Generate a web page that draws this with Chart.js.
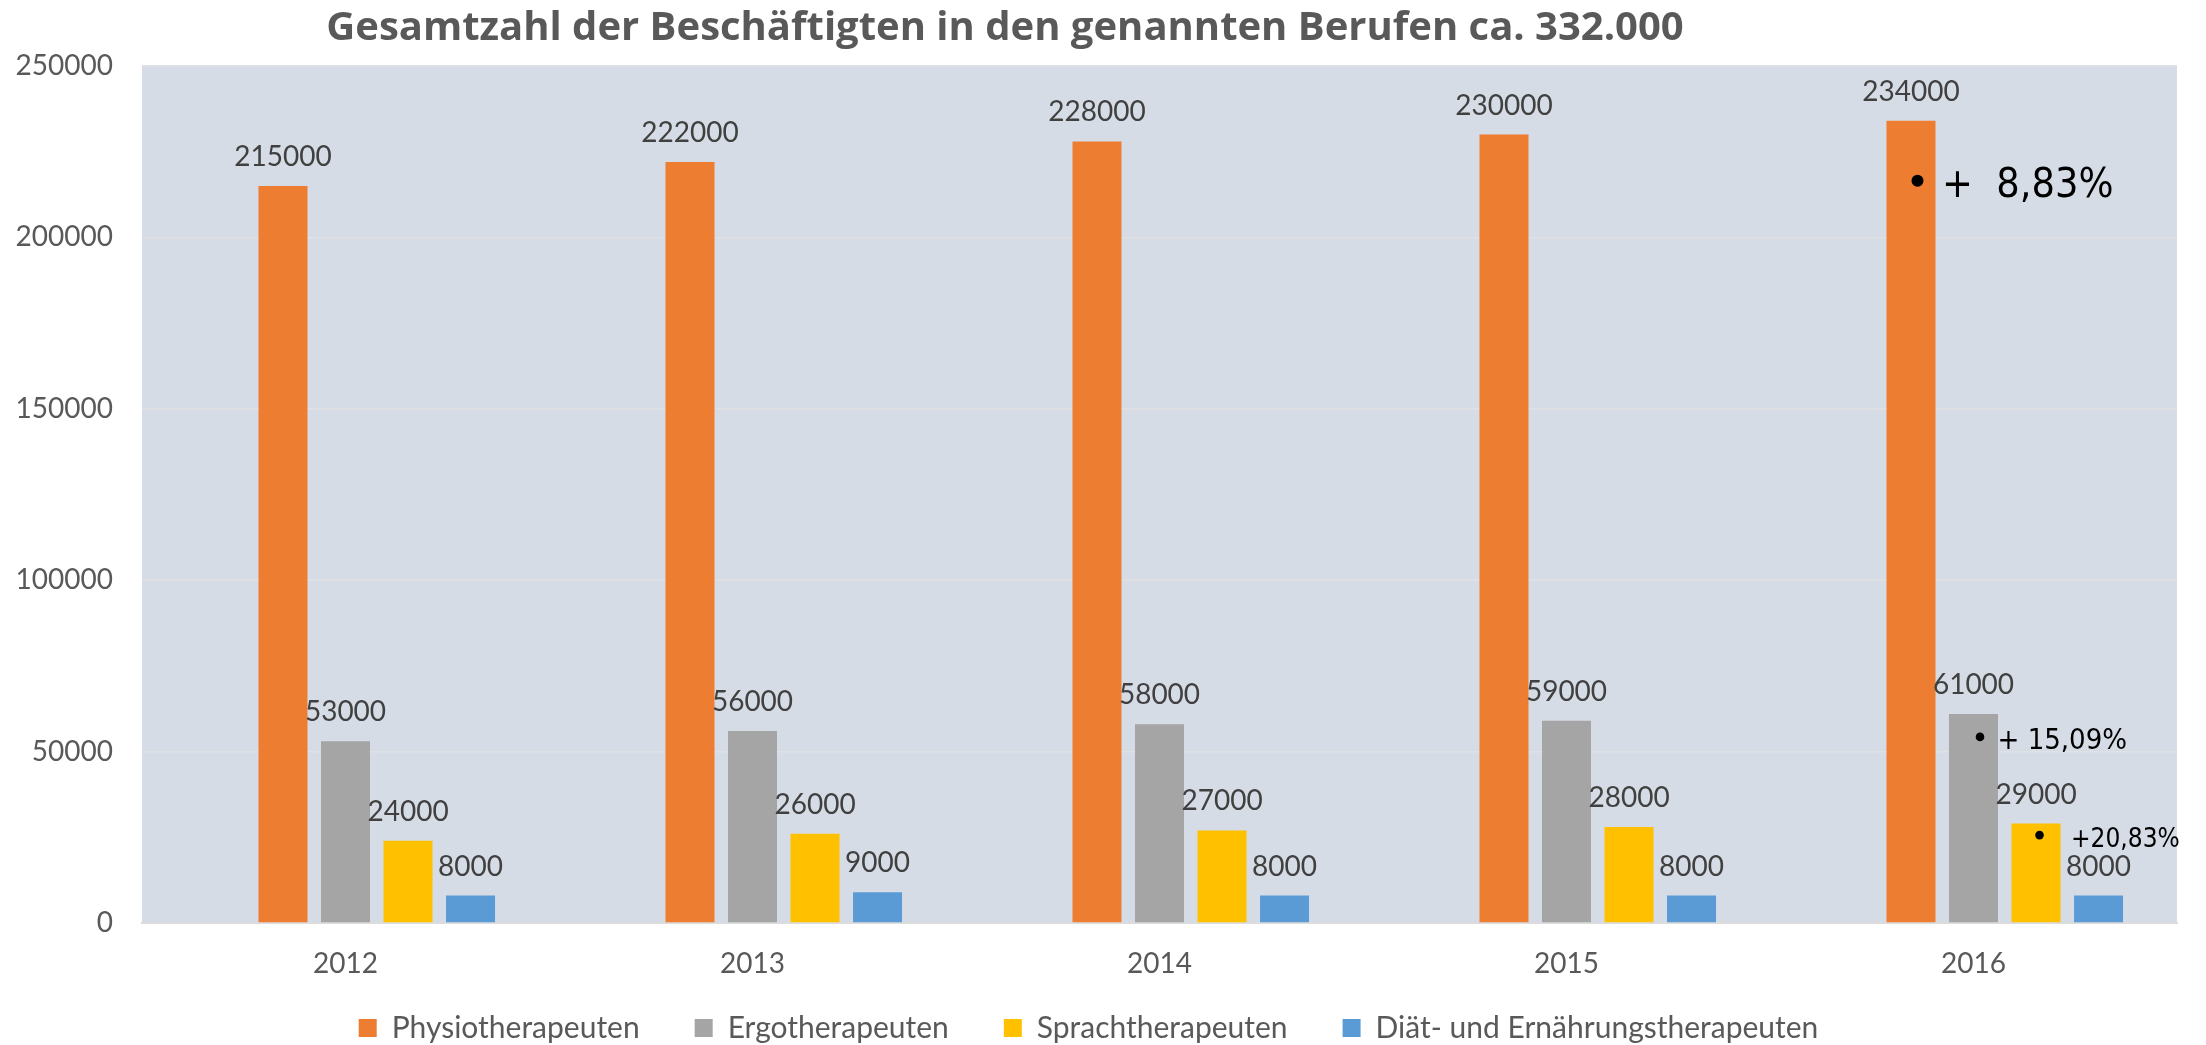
<!DOCTYPE html>
<html>
<head>
<meta charset="utf-8">
<script src="https://cdn.jsdelivr.net/npm/chart.js@4.4.1/dist/chart.umd.min.js"></script>
<style>
  html, body { margin: 0; padding: 0; background: #fff; }
</style>
</head>
<body>
<canvas id="barChart" width="2206" height="1045"></canvas>
<script>
// data
var years = ['2012', '2013', '2014', '2015', '2016'];
var physio = [215000, 222000, 228000, 230000, 234000];
var ergo = [53000, 56000, 58000, 59000, 61000];
var sprach = [24000, 26000, 27000, 28000, 29000];
var diaet = [8000, 9000, 8000, 8000, 8000];
var emptySlot = [null, null, null, null, null]; // empty first series in the original
var seriesNames = ['Physiotherapeuten', 'Ergotherapeuten', 'Sprachtherapeuten', 'Diät- und Ernährungstherapeuten'];
var yTicks = [0, 50000, 100000, 150000, 200000, 250000];
var growthLabels = ['+  8,83%', '+ 15,09%', '+20,83%'];
var chartTitle = 'Gesamtzahl der Beschäftigten in den genannten Berufen ca. 332.000';

var textGrey = '#595959';

// growth notes sit on the 2016 bars of the first three series
var noteStyle = [
  {dataset: 1, r: 6, dotX: 6.5, dotY: 60, textX: 31, textY: 76, size: 41},
  {dataset: 2, r: 4.3, dotX: 6.5, dotY: 23, textX: 24, textY: 35, size: 29},
  {dataset: 3, r: 4.3, dotX: 3.5, dotY: 11.5, textX: 35, textY: 23.5, size: 26}
];

var plotBackground = {
  id: 'plotBackground',
  afterLayout: function (chart) {
    // the x labels hang into the legend band, keep them from being clipped
    chart.scales.x.bottom = chart.height;
  },
  beforeDraw: function (chart) {
    var a = chart.chartArea, ctx = chart.ctx;
    ctx.save();
    ctx.fillStyle = '#d6dce5';
    ctx.fillRect(a.left, a.top, a.right - a.left, a.bottom - a.top);
    ctx.restore();
  }
};

var titleText = {
  id: 'titleText',
  afterDraw: function (chart) {
    var ctx = chart.ctx;
    ctx.save();
    ctx.font = 'bold 40px "Open Sans"';
    ctx.fillStyle = textGrey;
    ctx.textAlign = 'center';
    ctx.textBaseline = 'middle';
    ctx.fillText(chartTitle, 1005, 29);
    ctx.restore();
  }
};

var valueLabels = {
  id: 'valueLabels',
  afterDatasetsDraw: function (chart) {
    var ctx = chart.ctx;
    ctx.save();
    ctx.font = '28px Lato';
    ctx.fillStyle = '#404040';
    ctx.textAlign = 'center';
    ctx.textBaseline = 'middle';
    chart.data.datasets.forEach(function (ds, di) {
      if (di === 0) return;
      chart.getDatasetMeta(di).data.forEach(function (bar, i) {
        ctx.fillText(String(ds.data[i]), bar.x, bar.y - 29);
      });
    });

    // growth notes
    var last = years.length - 1;
    ctx.fillStyle = '#000';
    ctx.textAlign = 'left';
    ctx.textBaseline = 'alphabetic';
    noteStyle.forEach(function (n, k) {
      var bar = chart.getDatasetMeta(n.dataset).data[last];
      ctx.beginPath();
      ctx.arc(bar.x + n.dotX, bar.y + n.dotY, n.r, 0, Math.PI * 2);
      ctx.fill();
      ctx.font = n.size + 'px "DejaVu Sans Condensed"';
      ctx.fillText(growthLabels[k], bar.x + n.textX, bar.y + n.textY);
    });
    ctx.restore();
  }
};

var ctx = document.getElementById('barChart');
new Chart(ctx, {
  type: 'bar',
  data: {
    labels: years,
    datasets: [
      {label: '', data: emptySlot, backgroundColor: 'rgba(0,0,0,0)'},
      {label: seriesNames[0], data: physio, backgroundColor: '#ed7d31'},
      {label: seriesNames[1], data: ergo, backgroundColor: '#a5a5a5'},
      {label: seriesNames[2], data: sprach, backgroundColor: '#ffc000'},
      {label: seriesNames[3], data: diaet, backgroundColor: '#5b9bd5'}
    ]
  },
  options: {
    responsive: false,
    animation: false,
    categoryPercentage: 0.768,
    barPercentage: 0.784,
    layout: {
      padding: {left: 0, right: 29, top: 66, bottom: -8}
    },
    scales: {
      x: {
        grid: {display: false, drawTicks: false},
        border: {display: true, color: '#dcdcdc', width: 2},
        ticks: {color: textGrey, font: {family: 'Lato', size: 28}, padding: 24},
        afterFit: function (scale) { scale.height = 35; }
      },
      y: {
        min: 0,
        max: 250000,
        afterBuildTicks: function (scale) {
          scale.ticks = yTicks.map(function (v) { return {value: v}; });
        },
        grid: {color: '#dfe1e5', lineWidth: 1.5, drawTicks: false},
        border: {display: false},
        ticks: {
          color: textGrey,
          font: {family: 'Lato', size: 28},
          padding: 29,
          callback: function (v) { return String(v); }
        },
        afterFit: function (scale) { scale.width = 142; }
      }
    },
    plugins: {
      legend: {
        position: 'bottom',
        labels: {
          color: textGrey,
          font: {family: 'Lato', size: 30},
          boxWidth: 18,
          boxHeight: 18,
          padding: 55,
          filter: function (item) { return item.datasetIndex > 0; }
        }
      },
      title: {display: false},
      tooltip: {enabled: false}
    }
  },
  plugins: [plotBackground, titleText, valueLabels]
});
</script>
</body>
</html>
